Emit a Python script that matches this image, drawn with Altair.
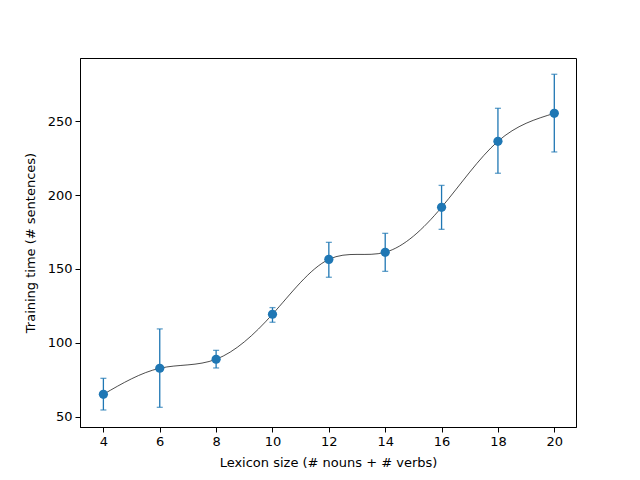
import altair as alt
import pandas as pd

lexicon = [4, 6, 8, 10, 12, 14, 16, 18, 20]
mean_time = [65.3, 82.9, 89.0, 119.4, 156.5, 161.3, 191.7, 236.3, 255.2]
err_low = [54.7, 56.5, 83.1, 114.0, 144.4, 148.4, 176.8, 214.7, 229.1]
err_high = [76.1, 109.5, 95.0, 123.9, 168.0, 174.1, 206.5, 258.6, 281.6]

df = pd.DataFrame({"x": lexicon, "y": mean_time, "lo": err_low, "hi": err_high})

xs = alt.Scale(domain=[3.17, 20.77], nice=False, zero=False)
ys = alt.Scale(domain=[43.2, 292.6], nice=False, zero=False)

xax = alt.Axis(values=lexicon, title="Lexicon size (# nouns + # verbs)", grid=False,
               tickColor="black", domainColor="black", labelColor="black",
               tickSize=5, labelFontSize=13, titleFontSize=13, titleFontWeight="normal",
               labelFont="DejaVu Sans", titleFont="DejaVu Sans", labelPadding=3, titlePadding=8,
               labelFlush=False)
yax = alt.Axis(values=[50, 100, 150, 200, 250], title="Training time (# sentences)", grid=False,
               tickColor="black", domainColor="black", labelColor="black",
               tickSize=5, labelFontSize=13, titleFontSize=13, titleFontWeight="normal",
               labelFont="DejaVu Sans", titleFont="DejaVu Sans", labelPadding=3, titlePadding=10,
               labelFlush=False)

base = alt.Chart(df)
X = alt.X("x:Q", scale=xs, axis=xax)

line = base.mark_line(interpolate="natural", color="black", strokeWidth=0.7).encode(
    x=X, y=alt.Y("y:Q", scale=ys, axis=yax))
rules = base.mark_rule(color="#1f77b4", strokeWidth=1.3).encode(
    x=X, y=alt.Y("lo:Q", scale=ys, axis=yax), y2="hi:Q")
cap_lo = base.mark_tick(color="#1f77b4", orient="horizontal", size=6, thickness=1.3).encode(
    x=X, y=alt.Y("lo:Q", scale=ys, axis=yax))
cap_hi = base.mark_tick(color="#1f77b4", orient="horizontal", size=6, thickness=1.3).encode(
    x=X, y=alt.Y("hi:Q", scale=ys, axis=yax))
pts = base.mark_circle(color="#1f77b4", opacity=1, size=85).encode(
    x=X, y=alt.Y("y:Q", scale=ys, axis=yax))

chart = alt.layer(line, rules, cap_lo, cap_hi, pts).properties(
    width=496, height=369,
    autosize=alt.AutoSizeParams(type="none"),
    padding={"left": 72, "top": 50, "right": 56, "bottom": 45},
).configure(background="white").configure_view(stroke="black", strokeWidth=1)

chart.save("out.html", embed_options={"renderer": "svg", "actions": False})
